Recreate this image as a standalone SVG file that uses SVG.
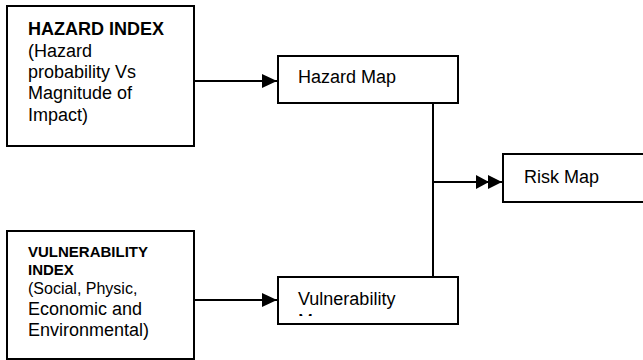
<svg xmlns="http://www.w3.org/2000/svg" width="643" height="360" viewBox="0 0 643 360">
<style>
.box{fill:#fff;stroke:#000;stroke-width:2}
.t{font-family:"Liberation Sans",Arial,sans-serif;font-size:18px;fill:#000}
.b{font-weight:bold}
.ln{fill:none;stroke:#000;stroke-width:2}
</style>
<defs>
<marker id="ah" markerWidth="16" markerHeight="16" refX="15" refY="7" orient="auto" markerUnits="userSpaceOnUse">
<path d="M0,0 L15,7 L0,14 Z" fill="#000"/>
</marker>
<marker id="ah2" markerWidth="28" markerHeight="16" refX="26" refY="7" orient="auto" markerUnits="userSpaceOnUse">
<path d="M0,0 L13,7 L0,14 Z M12,0 L26,7 L12,14 Z" fill="#000"/>
</marker>
<clipPath id="cv"><rect x="279" y="278" width="178" height="38"/></clipPath>
</defs>
<rect width="643" height="360" fill="#fff"/>
<g id="hazard-index">
<rect class="box" x="7" y="6" width="187" height="140"/>
<text class="t b" x="28" y="35">HAZARD INDEX</text>
<text class="t" x="28" y="57">(Hazard</text>
<text class="t" x="28" y="78">probability Vs</text>
<text class="t" x="28" y="99">Magnitude of</text>
<text class="t" x="28" y="121">Impact)</text>
</g>
<g id="vulnerability-index">
<rect class="box" x="7" y="231" width="187" height="128"/>
<text class="t b" x="28" y="257" style="font-size:15px">VULNERABILITY</text>
<text class="t b" x="28" y="275" style="font-size:15px">INDEX</text>
<text class="t" x="28" y="294" style="font-size:16px">(Social, Physic,</text>
<text class="t" x="28" y="315">Economic and</text>
<text class="t" x="28" y="336">Environmental)</text>
</g>
<g id="hazard-map">
<rect class="box" x="278" y="56" width="180" height="47"/>
<text class="t" x="298" y="83">Hazard Map</text>
</g>
<g id="vulnerability-map">
<rect class="box" x="278" y="277" width="180" height="47"/>
<g clip-path="url(#cv)">
<text class="t" x="298" y="305">Vulnerability</text>
<text class="t" x="298" y="327">Map</text>
</g>
</g>
<g id="risk-map">
<rect class="box" x="503" y="154" width="142" height="48"/>
<text class="t" x="524" y="183">Risk Map</text>
</g>
<g id="connectors">
<line class="ln" x1="194" y1="81" x2="277" y2="81" marker-end="url(#ah)"/>
<line class="ln" x1="194" y1="300" x2="277" y2="300" marker-end="url(#ah)"/>
<line class="ln" x1="433" y1="103" x2="433" y2="277"/>
<line class="ln" x1="433" y1="182" x2="502" y2="182" marker-end="url(#ah2)"/>
</g>
</svg>
